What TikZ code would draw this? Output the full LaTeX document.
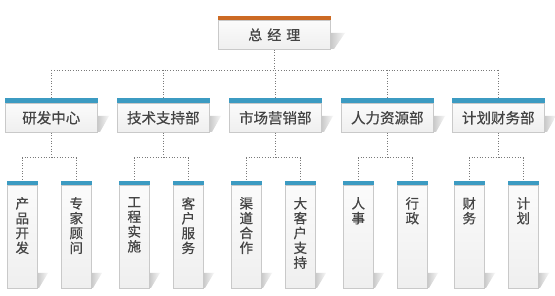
\documentclass[tikz,border=0pt]{standalone}
\usepackage{fontspec}
\setmainfont{Noto Sans CJK SC}[FakeBold=0.6]
\pgfdeclarelayer{background}
\pgfsetlayers{background,main}
\definecolor{boxline}{HTML}{C9C9C9}
\definecolor{boxtop}{HTML}{FBFBFB}
\definecolor{boxbot}{HTML}{EFEFEF}
\definecolor{orangebar}{HTML}{CC6A24}
\definecolor{bluebar}{HTML}{3C9BC2}
\definecolor{txt}{HTML}{444444}
\definecolor{dotc}{HTML}{7A7A7A}
\begin{document}
\begin{tikzpicture}[x=1pt,y=-1pt,
  box/.style={draw=boxline, line width=0.6pt, top color=boxtop, bottom color=boxbot,
    inner sep=0pt, anchor=north west, text=txt},
  topbox/.style={box, minimum width=112pt, minimum height=29pt, font=\fontsize{14}{16}\selectfont},
  deptbox/.style={box, minimum width=92pt, minimum height=29pt, font=\fontsize{14.5}{16}\selectfont},
  childbox/.style={box, minimum width=30pt, minimum height=103pt},
  childtxt/.style={anchor=north, inner sep=0pt, text=txt, font=\fontsize{13.5}{14.8}\selectfont, align=center},
  dotline/.style={draw=dotc, line width=0.7pt, dotted},
  shadowfill/.style={left color=black!22, right color=black!3, draw=none}
]
\useasboundingbox (0,0) rectangle (555,296);
\begin{pgfonlayer}{background}
  \fill[white] (0,0) rectangle (555,296);
\end{pgfonlayer}

% top box
\shade[shadowfill] (330,33) -- (345,33) -- (334,49) -- (330,49) -- cycle;
\node[topbox] (T) at (218,20) {总\hspace{5pt}经\hspace{5pt}理};
\fill[orangebar] ([yshift=4pt]T.north west) rectangle (T.north east);
\coordinate (hub) at (T.south |- 0,70);

\foreach \i/\L/\dname/\ca/\cb in {
  1/5/研发中心/{产\\品\\开\\发}/{专\\家\\顾\\问},
  2/117/技术支持部/{工\\程\\实\\施}/{客\\户\\服\\务},
  3/229/市场营销部/{渠\\道\\合\\作}/{大\\客\\户\\支\\持},
  4/341/人力资源部/{人\\事}/{行\\政},
  5/452/计划财务部/{财\\务}/{计\\划}} {
  % dept
  \shade[shadowfill] (\L+92,116) -- (\L+104,116) -- (\L+95,132) -- (\L+92,132) -- cycle;
  \node[deptbox] (D\i) at (\L,103) {\dname};
  \fill[bluebar] ([yshift=5pt]D\i.north west) rectangle (D\i.north east);
  % children
  \shade[shadowfill] (\L+32,273) -- (\L+43,273) -- (\L+34,288) -- (\L+32,288) -- cycle;
  \shade[shadowfill] (\L+86,273) -- (\L+97,273) -- (\L+88,288) -- (\L+86,288) -- cycle;
  \node[childbox] (C\i a) at (\L+2,185) {};
  \node[childbox] (C\i b) at (\L+56,185) {};
  \fill[bluebar] ([yshift=4pt]C\i a.north west) rectangle (C\i a.north east);
  \fill[bluebar] ([yshift=4pt]C\i b.north west) rectangle (C\i b.north east);
  \node[childtxt] (C\i at) at ([yshift=-12pt]C\i a.north) {\ca};
  \node[childtxt] (C\i bt) at ([yshift=-12pt]C\i b.north) {\cb};
  \coordinate (J\i) at ([yshift=-25pt]D\i.south);
  \begin{pgfonlayer}{background}
    \draw[dotline] (D\i.north |- hub) -- (D\i.north);
    \draw[dotline] (D\i.south) -- (J\i);
    \draw[dotline] (C\i a.north) -- (C\i a.north |- J\i) -- (C\i b.north |- J\i) -- (C\i b.north);
  \end{pgfonlayer}
}
\begin{pgfonlayer}{background}
  \draw[dotline] (T.south) -- (hub);
  \draw[dotline] (D1.north |- hub) -- (D5.north |- hub);
\end{pgfonlayer}
\end{tikzpicture}
\end{document}
